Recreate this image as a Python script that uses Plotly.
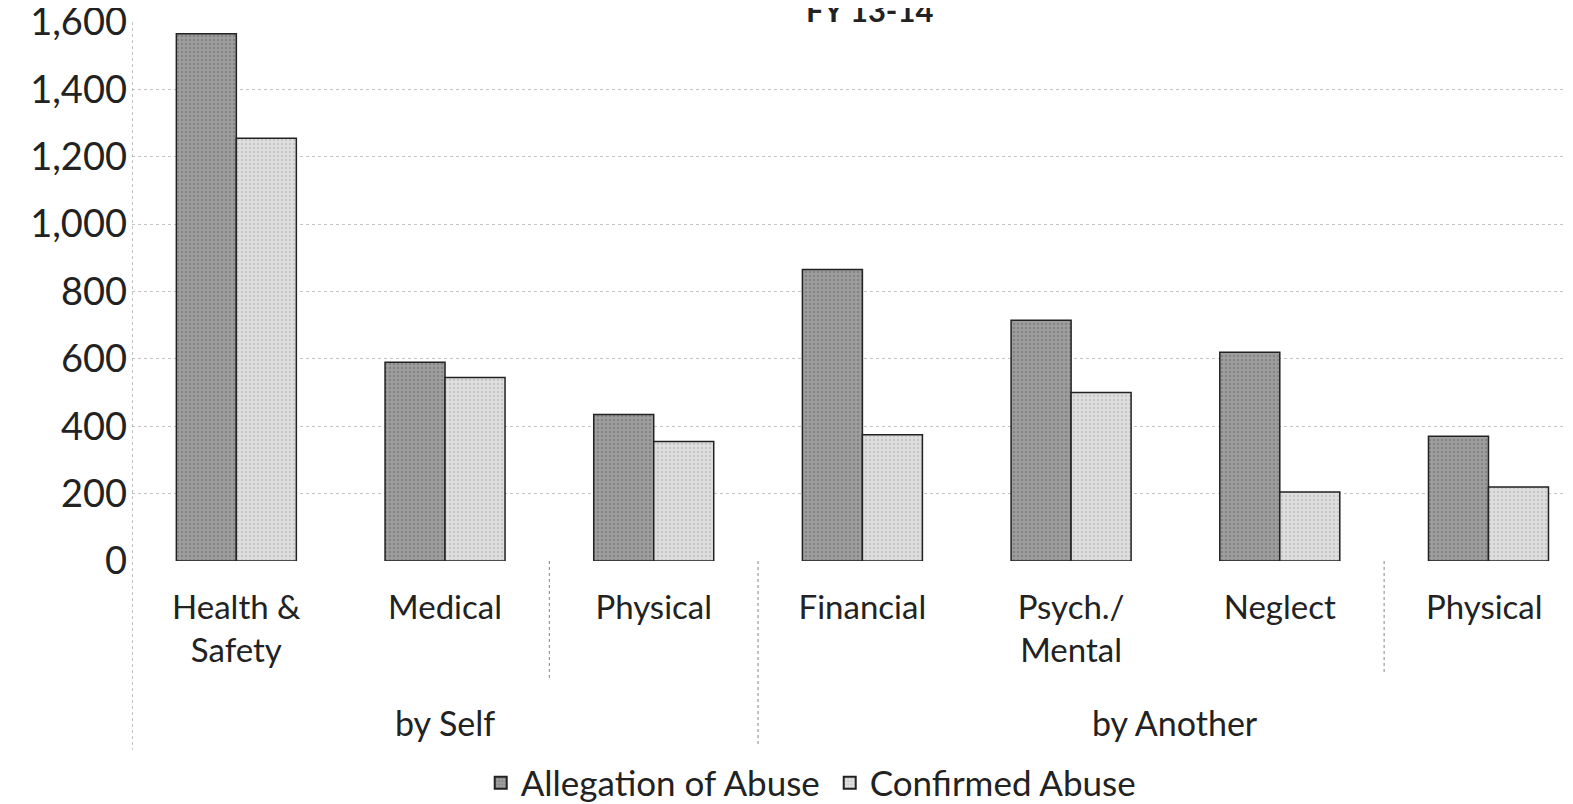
import plotly.graph_objects as go

categories = ["Health &<br>Safety", "Medical", "Physical",
              "Financial", "Psych./<br>Mental", "Neglect", "Physical "]
group_names = ["by Self", "by Another"]
group_members = [[0, 1, 2], [3, 4, 5, 6]]
allegation = [1565, 590, 435, 865, 715, 620, 370]
confirmed = [1255, 545, 355, 375, 500, 205, 220]

font_family = "Lato, 'Open Sans', sans-serif"
divider = dict(color="#9a9a9a", width=1.2, dash="dot")

fig = go.Figure()
fig.add_trace(go.Bar(
    name="Allegation of Abuse", x=categories, y=allegation,
    marker=dict(color="#9e9e9e", line=dict(color="#222", width=1.5),
                pattern=dict(shape=".", fgcolor="#6a6a6a", size=4, solidity=0.3)),
))
fig.add_trace(go.Bar(
    name="Confirmed Abuse", x=categories, y=confirmed,
    marker=dict(color="#dedede", line=dict(color="#222", width=1.5),
                pattern=dict(shape=".", fgcolor="#a0a0a0", size=4, solidity=0.2)),
))

# group labels under the category labels
for name, members in zip(group_names, group_members):
    fig.add_annotation(text=name, x=sum(members) / len(members), xref="x",
                       y=-0.299, yref="paper", showarrow=False,
                       font=dict(size=34), yanchor="middle")

# title sits half outside the top edge, as in the scan
fig.add_annotation(text="<b>FY 13-14</b>", x=0.512, xref="paper", y=1, yref="paper",
                   yanchor="middle", yshift=12, showarrow=False, font=dict(size=31))

# Excel-style category dividers (short) and group dividers (long)
for xpos, ybottom in [(-0.5, -0.35), (1.5, -0.22), (2.5, -0.345), (5.5, -0.21)]:
    fig.add_shape(type="line", xref="x", yref="paper", x0=xpos, x1=xpos,
                  y0=0 if xpos != -0.5 else 1, y1=ybottom, line=divider)

# the page body has an 8px margin, so the figure is 8px smaller than the window
fig.update_layout(
    width=1565, height=796,
    barmode="group", bargap=0.425, bargroupgap=0,
    plot_bgcolor="white", paper_bgcolor="white",
    font=dict(family=font_family, size=33, color="#222"),
    margin=dict(l=124, r=0, t=14, b=243, autoexpand=False),
    legend=dict(orientation="h", x=0.242, xanchor="left", y=-0.412, yanchor="middle",
                font=dict(size=35), itemsizing="constant", itemwidth=30,
                entrywidth=304, entrywidthmode="pixels"),
    showlegend=True,
)
fig.update_yaxes(range=[0, 1600], dtick=200, tickformat=",", automargin=False,
                 tickfont=dict(size=38), ticklabeloverflow="allow", ticklabelstandoff=4,
                 showgrid=True, gridcolor="#c4c4c4", griddash="dot", gridwidth=1,
                 zeroline=False, showline=False, ticks="", ticklen=0)
fig.update_xaxes(range=[-0.5, 6.405], automargin=False, showline=False,
                 ticks="", ticklabelstandoff=24)

fig.write_html("out.html")
